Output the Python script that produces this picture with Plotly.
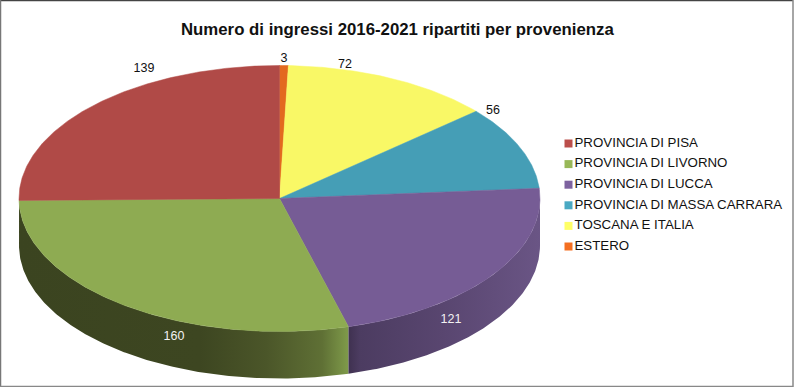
import numpy as np
import plotly.graph_objects as go

# Data
categories = ["PROVINCIA DI PISA", "PROVINCIA DI LIVORNO", "PROVINCIA DI LUCCA",
              "PROVINCIA DI MASSA CARRARA", "TOSCANA E ITALIA", "ESTERO"]
values = [139, 160, 121, 56, 72, 3]

# Styles
top_colors = ["#B04A47", "#8EAB52", "#765C95", "#459EB6", "#F9F866", "#E3691F"]
legend_colors = ["#BB4E4B", "#98B858", "#7D629F", "#4AA9C3", "#FFFF66", "#F46F21"]
label_xy = [(144, 68.5), (174, 336.5), (451, 319.5), (493, 110.5), (345, 64.5), (284, 59)]
label_colors = ["#111111", "#F2F2F2", "#F2F2F2", "#111111", "#111111", "#111111"]

CX, CY, RX, RY, DEPTH = 279.5, 198.5, 260.5, 133, 47
FONT = "Liberation Sans"


def rim(t0, t1, dy=0.0):
    t = np.radians(np.linspace(t0, t1, max(int(abs(t1 - t0) * 2), 2) + 1))
    return CX + RX * np.sin(t), CY - RY * np.cos(t) + dy


# Clockwise from 12 o'clock: last category first
order = list(range(len(values)))[::-1]
total = sum(values)
bounds = {}
acc = 0.0
for i in order:
    bounds[i] = (acc / total * 360, (acc + values[i]) / total * 360)
    acc += values[i]

fig = go.Figure()

# Side walls of the disc (front half only)
wall_grad = {
    1: [(0, "#3B4420"), (0.55, "#3D4621"), (0.75, "#4B5629"), (0.92, "#5F7035"), (1, "#7F9B4A")],
    2: [(0, "#3F3150"), (0.06, "#4C3C61"), (0.5, "#594670"), (1, "#6A5585")],
}
for i, stops in wall_grad.items():
    a, b = bounds[i]
    a, b = max(a, 90), min(b, 270)
    x1, y1 = rim(a, b)
    x2, y2 = rim(b, a, DEPTH)
    xs = np.concatenate([x1, x2, x1[:1]])
    ys = np.concatenate([y1, y2, y1[:1]])
    fig.add_trace(go.Scatter(
        x=xs, y=ys, mode="lines", fill="toself", line=dict(width=0),
        fillgradient=dict(type="horizontal", colorscale=stops,
                          start=float(xs.min()), stop=float(xs.max())),
        hoverinfo="skip", showlegend=False))

# Top face slices
for i in order:
    a, b = bounds[i]
    x, y = rim(a, b)
    fig.add_trace(go.Scatter(
        x=np.concatenate([[CX], x, [CX]]), y=np.concatenate([[CY], y, [CY]]),
        mode="lines", fill="toself", fillcolor=top_colors[i],
        line=dict(width=0.5, color=top_colors[i]),
        name=categories[i], text=f"{categories[i]}: {values[i]}", hoverinfo="text",
        showlegend=False))

# Value labels
fig.add_trace(go.Scatter(
    x=[p[0] for p in label_xy], y=[p[1] for p in label_xy],
    mode="text", text=[str(v) for v in values], textposition="middle center",
    textfont=dict(family=FONT, size=12.5, color=label_colors),
    hoverinfo="skip", showlegend=False))

# Legend
LEG_Y0, LEG_STEP = 143.5, 20.6
fig.add_trace(go.Scatter(
    x=[568.5] * len(categories),
    y=[LEG_Y0 + k * LEG_STEP for k in range(len(categories))],
    mode="markers+text", text=categories, textposition="middle right",
    marker=dict(symbol="square", size=8, color=legend_colors, line=dict(width=0)),
    textfont=dict(family=FONT, size=13.3, color="#111111"),
    hoverinfo="skip", showlegend=False))

fig.update_layout(
    width=795, height=387, autosize=False,
    margin=dict(l=0, r=0, t=0, b=0),
    paper_bgcolor="white", plot_bgcolor="white",
    showlegend=False,
    xaxis=dict(range=[0, 795], visible=False, fixedrange=True),
    yaxis=dict(range=[387, 0], visible=False, fixedrange=True),
    annotations=[dict(
        text="<b>Numero di ingressi 2016-2021 ripartiti per provenienza</b>",
        x=397.5, y=29, xref="x", yref="y", showarrow=False,
        font=dict(family=FONT, size=16.8, color="#111111"))],
    shapes=[
        dict(type="line", xref="x", yref="y", x0=0, x1=793, y0=0.5, y1=0.5,
             line=dict(color="#444444", width=1.5)),
        dict(type="line", xref="x", yref="y", x0=0.5, x1=0.5, y0=0, y1=387,
             line=dict(color="#777777", width=1.5)),
        dict(type="line", xref="x", yref="y", x0=0, x1=793, y0=386.5, y1=386.5,
             line=dict(color="#888888", width=1.5)),
        dict(type="line", xref="x", yref="y", x0=793, x1=793, y0=0, y1=387,
             line=dict(color="#888888", width=1.5)),
    ],
)

fig.write_html("out.html", config=dict(displayModeBar=False),
               post_script="document.body.style.margin='0';document.body.style.overflow='hidden';")
